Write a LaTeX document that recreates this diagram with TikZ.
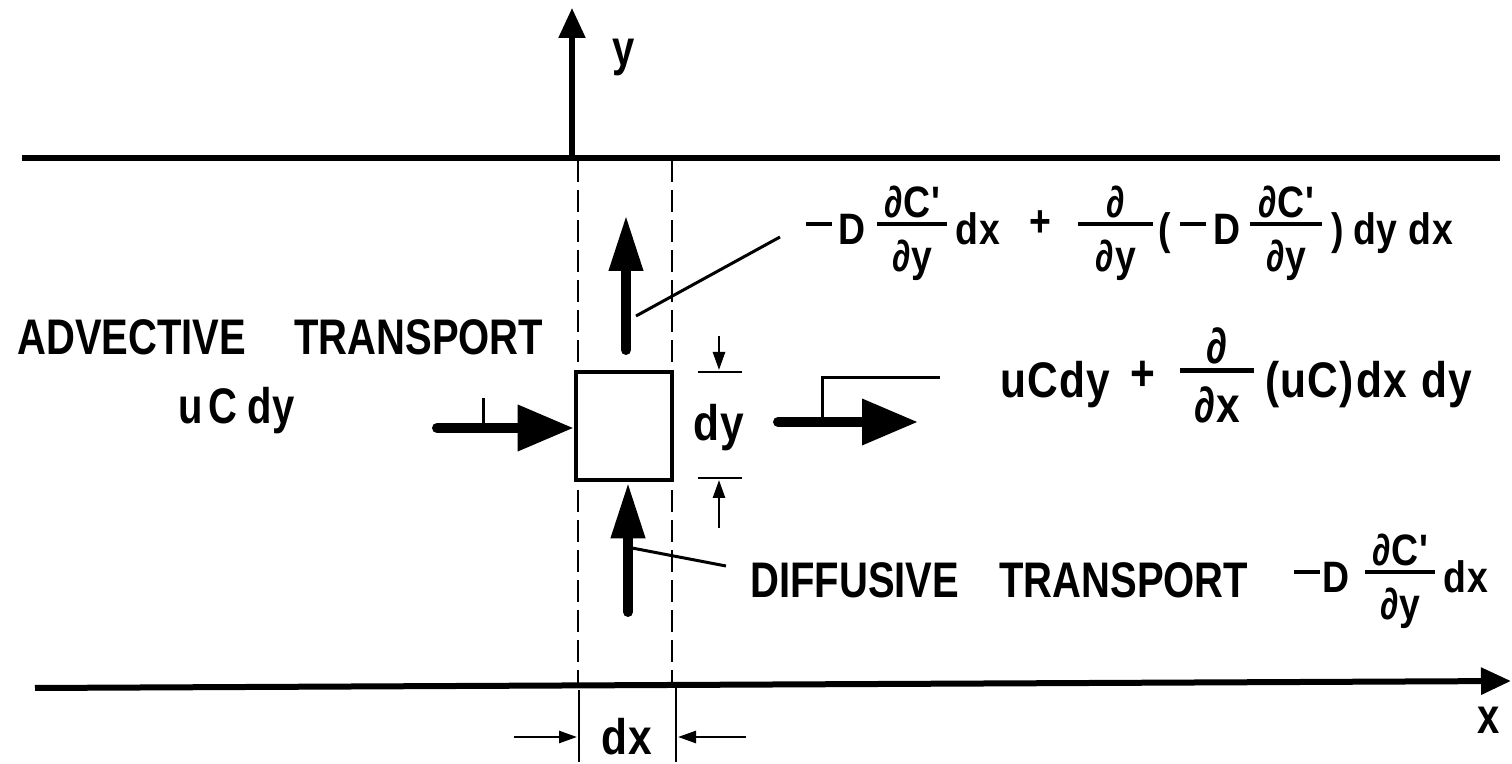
\documentclass[tikz,border=0pt]{standalone}
\usepackage{fontspec}
\setmainfont{Liberation Sans}
\newfontfamily\lf[FakeStretch=0.8]{Liberation Sans}
\newfontfamily\mf[FakeStretch=0.85,LetterSpace=2]{Liberation Sans}
\usetikzlibrary{arrows.meta}
\def\barr{0.43em}
\def\numr{0.62em}
\def\denr{0.6em}
\newcommand\mn{\rule[\barr]{13pt}{0.1em}}
\newcommand\frc[3]{\makebox[#1][l]{\rule[\barr]{#1}{0.09em}\hspace{-#1}\makebox[#1]{\raisebox{\numr}{#2}}\hspace{-#1}\makebox[#1]{\raisebox{-\denr}{#3}}}}
\tikzset{
  lab/.style={inner sep=0pt,font=\lf\bfseries\fontsize{25}{30}\selectfont},
  fml/.style={inner sep=0pt,font=\mf\bfseries\fontsize{22}{26}\selectfont},
  fmlbig/.style={inner sep=0pt,font=\mf\bfseries\fontsize{25}{30}\selectfont},
  axis/.style={line width=2.6pt,-{Triangle[length=15pt,width=13pt]}},
  edge/.style={line width=3pt},
  guide/.style={line width=1.3pt,dash pattern=on 11pt off 4pt},
  flowh/.style={line width=5pt,line cap=round,-{Triangle[length=28pt,width=22pt]}},
  flowv/.style={line width=5pt,line cap=round,-{Triangle[length=28pt,width=16pt]}},
  leader/.style={line width=1.5pt},
  dim/.style={line width=1.3pt,-{Triangle[length=9pt,width=6pt]}},
  tick/.style={line width=1.3pt},
  cell/.style={draw,line width=2.3pt,minimum width=48pt,minimum height=54pt,inner sep=0pt}
}
\begin{document}
\begin{tikzpicture}[x=0.5pt,y=-0.5pt]
\useasboundingbox (0,0) rectangle (1512,764);
% boundaries and axes
\coordinate (tl) at (22,158); \coordinate (tr) at (1500,158);
\draw[edge] (tl) -- (tr);
\coordinate (o) at (572,158); \coordinate (ytip) at (572,8);
\draw[axis] (o) -- (ytip);
\coordinate (bl) at (35,688); \coordinate (xtip) at (1511,681);
\draw[axis,line width=3pt] (bl) -- (xtip);
\node[lab,anchor=base west] (ylab) at (612,66) {y};
\node[lab] (xlab) at (1489,720) {x};
% dashed guides
\coordinate (g1t) at (578,160); \coordinate (g1b) at (578,688);
\coordinate (g2t) at (672,160); \coordinate (g2b) at (672,685);
\draw[guide] (g1t) -- (g1b);
\draw[guide] (g2t) -- (g2b);
% element
\node[cell,fill=white] (box) at (624,426) {};
% flow arrows
\coordinate (ain) at (437,428);
\draw[flowh] (ain) -- (box.west |- ain);
\coordinate (aout) at (778,422); \coordinate (aouttip) at (918,422);
\draw[flowh] (aout) -- (aouttip);
\coordinate (dtop) at (626,350); \coordinate (dtoptip) at (626,215);
\draw[flowv] (dtop) -- (dtoptip);
\coordinate (dbot) at (628,612);
\draw[flowv] (dbot) -- (box.south -| dbot);
% labels
\node[lab,anchor=base west] (adv) at (17,355) {ADVECTIVE\hspace{24pt}TRANSPORT};
\node[lab,anchor=base west] (ucdy) at (178,424) {u\hspace{3pt}C\hspace{5pt}dy};
\node[lab,anchor=base west] (diff) at (750,598) {DIFFUSIVE\hspace{20pt}TRANSPORT};
\node[fml,anchor=base west] (topf) at (803,245) {\makebox[16pt]{\mn}\makebox[16.5pt]{D}\hspace{4.5pt}\frc{35pt}{∂C'}{∂y}\makebox[30.5pt]{dx}\makebox[32pt]{\raisebox{0.2em}{+}}\hspace{3pt}\frc{37.5pt}{∂}{∂y}\makebox[11.5pt]{(}\makebox[17pt]{\mn}\makebox[17pt]{D}\hspace{3pt}\frc{36pt}{∂C'}{∂y}\makebox[15.5pt]{)}\makebox[22pt]{dy}\hspace{5.5pt}\makebox[22.5pt]{dx}};
\node[fml,anchor=base west] (difff) at (1293,593) {\makebox[14pt]{\mn}\makebox[15pt]{D}\hspace{7pt}\frc{35pt}{∂C'}{∂y}\hspace{4pt}dx};
\node[fmlbig,anchor=base west] (rightf) at (1004,398) {\def\barr{0.5em}\def\numr{0.68em}\def\denr{0.5em}\makebox[51pt]{uCdy}\makebox[37pt]{\raisebox{0.15em}{+}}\frc{37pt}{∂}{∂x}\hspace{7pt}\makebox[41pt]{(uC)}\makebox[31pt]{dx}\makebox[34pt]{dy}};
% leaders
\coordinate (l1a) at (483,398); \coordinate (l1b) at (483,426);
\draw[leader] (l1a) -- (l1b);
\coordinate (l2a) at (822,420); \coordinate (l2b) at (822,378); \coordinate (l2c) at (940,378);
\draw[leader] (l2a) -- (l2b) -- (l2c);
\coordinate (l3a) at (636,316); \coordinate (l3b) at (780,237);
\draw[leader] (l3a) -- (l3b);
\coordinate (l4a) at (632,548); \coordinate (l4b) at (726,566);
\draw[leader] (l4a) -- (l4b);
% dy dimension
\coordinate (dyt1) at (698,372); \coordinate (dyt2) at (742,372);
\coordinate (dyb1) at (698,478); \coordinate (dyb2) at (742,478);
\draw[tick] (dyt1) -- (dyt2);
\draw[tick] (dyb1) -- (dyb2);
\coordinate (dya) at (719,336); \coordinate (dyat) at (719,370);
\coordinate (dyb) at (719,528); \coordinate (dybt) at (719,480);
\draw[dim] (dya) -- (dyat);
\draw[dim] (dyb) -- (dybt);
\node[fmlbig] (dylab) at (719,428) {dy};
% dx dimension
\coordinate (dx1t) at (579,690); \coordinate (dx1b) at (579,762);
\coordinate (dx2t) at (676,688); \coordinate (dx2b) at (676,762);
\draw[tick] (dx1t) -- (dx1b);
\draw[tick] (dx2t) -- (dx2b);
\coordinate (dxa) at (514,737); \coordinate (dxat) at (577,737);
\coordinate (dxb) at (746,737); \coordinate (dxbt) at (678,737);
\draw[dim] (dxa) -- (dxat);
\draw[dim] (dxb) -- (dxbt);
\node[fmlbig] (dxlab) at (627,737) {dx};
\end{tikzpicture}
\end{document}
